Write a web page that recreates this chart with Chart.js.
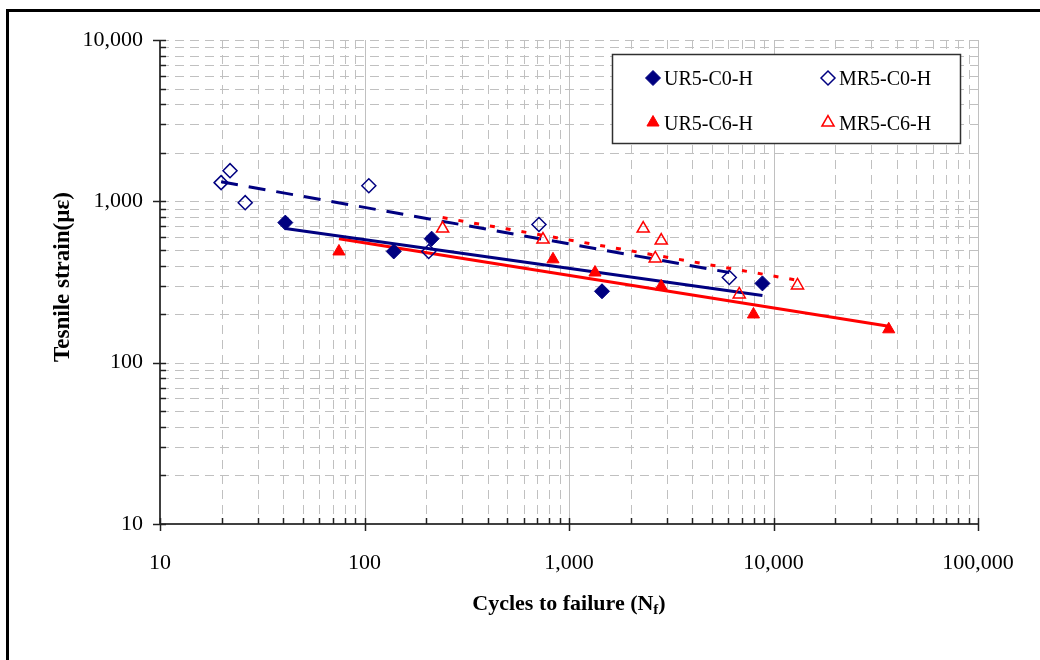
<!DOCTYPE html>
<html>
<head>
<meta charset="utf-8">
<script src="https://cdn.jsdelivr.net/npm/chart.js@4.4.1/dist/chart.umd.min.js"></script>
<style>
html,body{margin:0;padding:0;background:#fff;}
#wrap{position:relative;width:1040px;height:660px;}
</style>
</head>
<body>
<div id="wrap"><canvas id="c" width="1040" height="660"></canvas></div>
<script>
// ---- data ----
const SERIES_NAMES = ['UR5-C0-H', 'MR5-C0-H', 'UR5-C6-H', 'MR5-C6-H'];

const UR5_C0_N = [41, 139, 213, 1450, 8830];
const UR5_C0_S = [738, 489, 587, 277, 310];

const MR5_C0_N = [19.9, 22, 26.1, 105, 206, 713, 6080];
const MR5_C0_S = [1306, 1549, 981, 1250, 489, 718, 337];

const UR5_C6_N = [75, 835, 1340, 2825, 7980, 36600];
const UR5_C6_S = [489, 437, 362, 297, 199, 161];

const MR5_C6_N = [241, 746, 2306, 2825, 2640, 6800, 13100];
const MR5_C6_S = [678, 580, 678, 571, 443, 265, 301];

// trend line end points
const UR5_C0_TREND_N = [41, 8830];
const UR5_C0_TREND_S = [678, 261];
const MR5_C0_TREND_N = [19.9, 6080];
const MR5_C0_TREND_S = [1322, 362];
const UR5_C6_TREND_N = [75, 36600];
const UR5_C6_TREND_S = [587, 168];
const MR5_C6_TREND_N = [241, 13100];
const MR5_C6_TREND_S = [793, 324];

// axes
const X_MAJOR = [10, 100, 1000, 10000, 100000];
const X_LABELS = ['10', '100', '1,000', '10,000', '100,000'];
const Y_MAJOR = [10, 100, 1000, 10000];
const Y_LABELS = ['10', '100', '1,000', '10,000'];
const X_TITLE = 'Cycles to failure (N';
const X_TITLE_SUB = 'f';
const X_TITLE_END = ')';
const Y_TITLE = 'Tesnile strain(\u00b5\u03b5)';

const NAVY = '#000080';
const RED = '#ff0000';
const SERIF = "'Liberation Serif', 'Times New Roman', serif";

function pts(xs, ys) { return xs.map((x, i) => ({ x: x, y: ys[i] })); }
function allTicks(lo, hi) {
  const out = [];
  for (let d = lo; d < hi; d *= 10) for (let m = 1; m < 10; m++) out.push(d * m);
  out.push(hi);
  return out;
}
const X_ALL = allTicks(X_MAJOR[0], X_MAJOR[X_MAJOR.length - 1]);
const Y_ALL = allTicks(Y_MAJOR[0], Y_MAJOR[Y_MAJOR.length - 1]);

const markerStyles = [
  { pointStyle: 'rectRot', radius: 7.5, bg: NAVY, border: NAVY, bw: 1 },
  { pointStyle: 'rectRot', radius: 7, bg: 'rgba(0,0,0,0)', border: NAVY, bw: 1.5 },
  { pointStyle: 'triangle', radius: 7, bg: RED, border: RED, bw: 1 },
  { pointStyle: 'triangle', radius: 7, bg: 'rgba(0,0,0,0)', border: RED, bw: 1.5 }
];
const markerData = [
  pts(UR5_C0_N, UR5_C0_S), pts(MR5_C0_N, MR5_C0_S),
  pts(UR5_C6_N, UR5_C6_S), pts(MR5_C6_N, MR5_C6_S)
];

const datasets = markerData.map((d, i) => ({
  label: SERIES_NAMES[i],
  data: d,
  showLine: false,
  pointStyle: markerStyles[i].pointStyle,
  pointRadius: markerStyles[i].radius,
  pointBackgroundColor: markerStyles[i].bg,
  pointBorderColor: markerStyles[i].border,
  pointBorderWidth: markerStyles[i].bw,
  order: 0
}));

const trends = [
  { d: pts(UR5_C0_TREND_N, UR5_C0_TREND_S), c: NAVY, dash: [] },
  { d: pts(MR5_C0_TREND_N, MR5_C0_TREND_S), c: NAVY, dash: [17, 11] },
  { d: pts(UR5_C6_TREND_N, UR5_C6_TREND_S), c: RED, dash: [] },
  { d: pts(MR5_C6_TREND_N, MR5_C6_TREND_S), c: RED, dash: [5, 11] }
];
trends.forEach((t, i) => datasets.push({
  label: SERIES_NAMES[i] + ' trend',
  data: t.d,
  showLine: true,
  borderColor: t.c,
  borderWidth: 3,
  borderDash: t.dash,
  borderCapStyle: 'butt',
  pointRadius: 0,
  fill: false,
  order: 1
}));

function isMajor(v, majors) { return majors.some(m => Math.abs(m - v) < 1e-6 * m); }

const decor = {
  id: 'decor',
  beforeDraw(chart) {
    const ctx = chart.ctx;
    ctx.save();
    ctx.fillStyle = '#fff';
    ctx.fillRect(0, 0, chart.width, chart.height);
    ctx.fillStyle = '#000';
    ctx.fillRect(6, 9, chart.width - 6, 3);
    ctx.fillRect(6, 9, 3, chart.height - 9);
    ctx.restore();
  },
  beforeDatasetsDraw(chart) {
    const ctx = chart.ctx;
    const xs = chart.scales.x, ys = chart.scales.y;
    const a = chart.chartArea;
    ctx.save();
    ctx.lineWidth = 1;
    ctx.strokeStyle = '#c0c0c0';
    X_ALL.forEach(v => {
      if (v === X_MAJOR[0]) return;
      const px = Math.round(xs.getPixelForValue(v)) + 0.5;
      ctx.setLineDash(isMajor(v, X_MAJOR) ? [] : [9, 6]);
      ctx.beginPath(); ctx.moveTo(px, a.top); ctx.lineTo(px, a.bottom); ctx.stroke();
    });
    Y_ALL.forEach(v => {
      if (v === Y_MAJOR[0]) return;
      const py = Math.round(ys.getPixelForValue(v)) + 0.5;
      ctx.setLineDash([9, 6]);
      ctx.beginPath(); ctx.moveTo(a.left, py); ctx.lineTo(a.right, py); ctx.stroke();
    });
    ctx.setLineDash([]);
    ctx.strokeStyle = '#404040';
    ctx.lineWidth = 2;
    ctx.beginPath(); ctx.moveTo(a.left, a.top); ctx.lineTo(a.left, a.bottom); ctx.stroke();
    ctx.beginPath(); ctx.moveTo(a.left, a.bottom); ctx.lineTo(a.right, a.bottom); ctx.stroke();
    ctx.lineWidth = 1.5;
    ctx.strokeStyle = '#202020';
    Y_ALL.forEach(v => {
      const py = Math.round(ys.getPixelForValue(v)) + 0.5;
      const maj = isMajor(v, Y_MAJOR);
      ctx.beginPath(); ctx.moveTo(a.left - (maj ? 7 : 0), py); ctx.lineTo(a.left + 6, py); ctx.stroke();
    });
    X_ALL.forEach(v => {
      const px = Math.round(xs.getPixelForValue(v)) + 0.5;
      const maj = isMajor(v, X_MAJOR);
      ctx.beginPath(); ctx.moveTo(px, a.bottom - 6); ctx.lineTo(px, a.bottom + (maj ? 7 : 0)); ctx.stroke();
    });
    ctx.restore();
  },
  afterDraw(chart) {
    const ctx = chart.ctx;
    const a = chart.chartArea;
    ctx.save();
    ctx.fillStyle = '#000';
    const big = 'bold 22px ' + SERIF, small = 'bold 15px ' + SERIF;
    ctx.textBaseline = 'alphabetic';
    ctx.font = big;
    const w1 = ctx.measureText(X_TITLE).width;
    ctx.font = small;
    const w2 = ctx.measureText(X_TITLE_SUB).width;
    ctx.font = big;
    const w3 = ctx.measureText(X_TITLE_END).width;
    const cx = (a.left + a.right) / 2;
    const x0 = cx - (w1 + w2 + w3) / 2;
    const by = 610;
    ctx.textAlign = 'left';
    ctx.fillText(X_TITLE, x0, by);
    ctx.font = small;
    ctx.fillText(X_TITLE_SUB, x0 + w1, by + 4);
    ctx.font = big;
    ctx.fillText(X_TITLE_END, x0 + w1 + w2, by);

    ctx.save();
    ctx.translate(63, 277);
    ctx.rotate(-Math.PI / 2);
    ctx.textAlign = 'center';
    ctx.textBaseline = 'middle';
    ctx.font = 'bold 23px ' + SERIF;
    ctx.fillText(Y_TITLE, 0, 0);
    ctx.restore();

    // legend box
    ctx.fillStyle = '#fff';
    ctx.fillRect(612, 54, 349, 90);
    ctx.strokeStyle = '#303030';
    ctx.lineWidth = 1.5;
    ctx.strokeRect(612.5, 54.5, 348, 89);
    const pos = [[653, 78], [828, 78], [653, 122.5], [828, 122.5]];
    ctx.font = '20px ' + SERIF;
    ctx.textAlign = 'left';
    ctx.textBaseline = 'alphabetic';
    pos.forEach((p, i) => {
      const ms = markerStyles[i];
      ctx.fillStyle = ms.bg;
      ctx.strokeStyle = ms.border;
      ctx.lineWidth = ms.bw;
      Chart.helpers.drawPoint(ctx, { pointStyle: ms.pointStyle, radius: ms.radius, rotation: 0, borderWidth: ms.bw }, p[0], p[1]);
      ctx.fillStyle = '#000';
      ctx.fillText(SERIES_NAMES[i], p[0] + 11, p[1] + 7);
    });
    ctx.restore();
  }
};

new Chart(document.getElementById('c'), {
  type: 'scatter',
  data: { datasets: datasets },
  options: {
    responsive: false,
    devicePixelRatio: 1,
    animation: false,
    events: [],
    layout: { padding: { top: 40, right: 62, left: 0, bottom: 0 } },
    plugins: { legend: { display: false }, tooltip: { enabled: false } },
    scales: {
      x: {
        type: 'logarithmic',
        position: 'bottom',
        min: X_MAJOR[0],
        max: X_MAJOR[X_MAJOR.length - 1],
        grid: { display: false, drawTicks: false },
        border: { display: false },
        afterBuildTicks: s => { s.ticks = X_ALL.map(v => ({ value: v })); },
        afterFit: s => { s.height = 136; },
        ticks: {
          autoSkip: false, maxRotation: 0, minRotation: 0, padding: 26,
          color: '#000', font: { family: SERIF, size: 22 },
          callback: v => { const i = X_MAJOR.findIndex(m => Math.abs(m - v) < 1e-6 * m); return i >= 0 ? X_LABELS[i] : ''; }
        }
      },
      y: {
        type: 'logarithmic',
        position: 'left',
        min: Y_MAJOR[0],
        max: Y_MAJOR[Y_MAJOR.length - 1],
        grid: { display: false, drawTicks: false },
        border: { display: false },
        afterBuildTicks: s => { s.ticks = Y_ALL.map(v => ({ value: v })); },
        afterFit: s => { s.width = 160; },
        ticks: {
          autoSkip: false, padding: 17,
          color: '#000', font: { family: SERIF, size: 22 },
          callback: v => { const i = Y_MAJOR.findIndex(m => Math.abs(m - v) < 1e-6 * m); return i >= 0 ? Y_LABELS[i] : ''; }
        }
      }
    }
  },
  plugins: [decor]
});
</script>
</body>
</html>
